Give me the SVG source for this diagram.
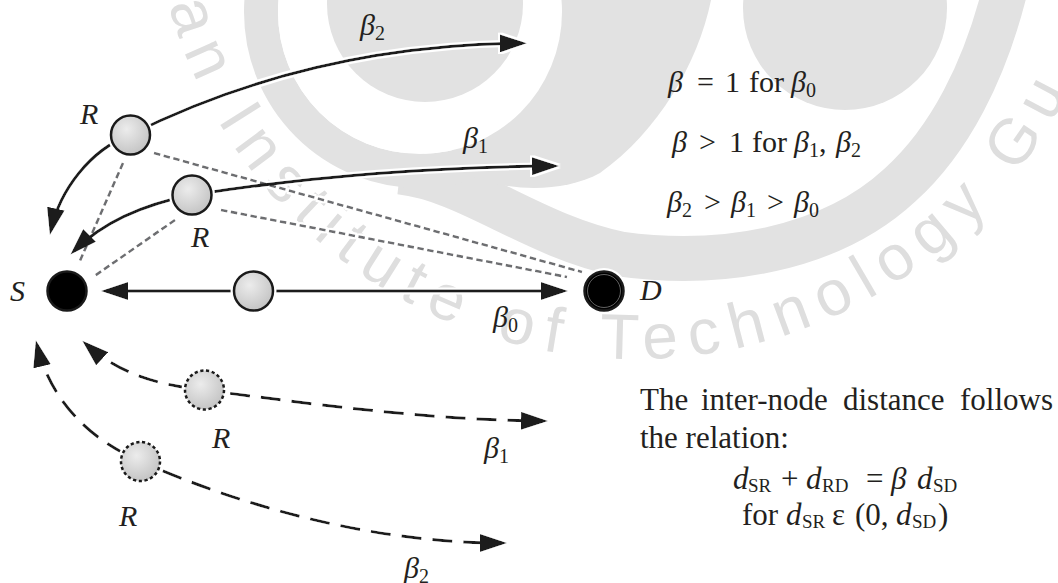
<svg xmlns="http://www.w3.org/2000/svg" width="1058" height="583" viewBox="0 0 1058 583">
<defs>
<style>
.t{font-family:"Liberation Serif","Times New Roman",serif;font-size:30px;fill:#231f20}
.b{font-size:31px}
.i{font-style:italic}
.sub{font-size:20px;font-style:normal}
.sb{font-size:19px;font-style:normal}
.wm{fill:#e2e2e2}
.wmt{font-family:"Liberation Sans",Arial,sans-serif;font-size:64px;letter-spacing:12px;fill:#dedede}
.halo{fill:#fff}
.node{stroke:#1a1a1a;stroke-width:2.5}
.relay{fill:url(#g)}
.ghost{fill:url(#g);stroke-dasharray:3.2 2.6}
.sink{fill:#000}
.solid{fill:none;stroke:#1a1a1a;stroke-width:3}
.dash{fill:none;stroke:#1a1a1a;stroke-width:3;stroke-dasharray:20 11}
.dot{fill:none;stroke:#6d6e71;stroke-width:2.6;stroke-dasharray:6.5 3.5}
</style>
<radialGradient id="g" cx="0.4" cy="0.35" r="0.7"><stop offset="0" stop-color="#ececec"/><stop offset="1" stop-color="#c2c2c2"/></radialGradient>
<marker id="ah" viewBox="0 0 27 18" refX="22" refY="9" markerWidth="27" markerHeight="18" markerUnits="userSpaceOnUse" orient="auto-start-reverse"><path d="M0,0 L27,9 L0,18 Z" fill="#1a1a1a"/></marker>
<filter id="hf" filterUnits="userSpaceOnUse" x="0" y="0" width="1058" height="583">
<feMorphology in="SourceAlpha" operator="dilate" radius="2" result="d"/>
<feFlood flood-color="#ffffff" result="f"/>
<feComposite in="f" in2="d" operator="in" result="w"/>
<feMerge><feMergeNode in="w"/><feMergeNode in="SourceGraphic"/></feMerge>
</filter>
<path id="wmArc" d="M 168.8,5.2 A 484 484 0 0 0 1089.8,40.5"/>
</defs>
<rect width="1058" height="583" fill="#fff"/>
<g id="watermark">
<path d="M400,172 C470,180 530,235 620,254 C720,268 830,250 900,185 C950,140 985,70 1005,-10" fill="none" stroke="#e2e2e2" stroke-width="45"/>
<circle cx="420" cy="12" r="159" fill="none" stroke="#e2e2e2" stroke-width="34"/>
<path class="wm" d="M560,-5 L712,-5 C700,60 660,130 600,173 C560,195 500,190 470,175 L420,100 Z"/>
<circle cx="420" cy="12" r="142" fill="#fff"/>
<circle class="wm" cx="425" cy="4" r="98"/>
<circle class="wm" cx="845" cy="8" r="102"/>
<text class="wmt"><textPath href="#wmArc">an Institute of Technology Gu</textPath></text>
</g>
<g id="connectors" filter="url(#hf)">
<path class="dot" d="M123,163 L79,263"/>
<path class="dot" d="M154,153 L582,272"/>
<path class="dot" d="M175,220 L93,277"/>
<path class="dot" d="M221,210 L567,277"/>
<path class="solid" d="M106,291 L563,291" marker-start="url(#ah)" marker-end="url(#ah)"/>
<path class="solid" d="M51,230 C60,190 90,150 130,135 C220,90 350,45 521.8,43.2" marker-start="url(#ah)" marker-end="url(#ah)"/>
<path class="solid" d="M74,251 C100,225 140,205 192,195 C300,178 420,167 554,166" marker-start="url(#ah)" marker-end="url(#ah)"/>
<path class="dash" d="M86,344 C120,375 160,385 204,390 C320,405 430,420 543,421" marker-start="url(#ah)" marker-end="url(#ah)"/>
<path class="dash" d="M37,345 C50,400 90,440 140,461 C250,510 380,543 502,543" marker-start="url(#ah)" marker-end="url(#ah)"/>
</g>
<g id="node-S"><circle class="halo" cx="67" cy="291" r="23"/><circle class="node sink" cx="67" cy="291" r="19.5"/><text class="t i" x="10" y="301">S</text></g>
<g id="node-D"><circle class="halo" cx="604" cy="291" r="23"/><circle class="node sink" cx="604" cy="291" r="19.5"/><circle cx="604" cy="291" r="16.5" fill="none" stroke="#7a7a7a" stroke-width="0.8"/><text class="t i" x="640" y="300">D</text></g>
<g id="node-M"><circle class="halo" cx="253.5" cy="291" r="23"/><circle class="node relay" cx="253.5" cy="291" r="19.5"/></g>
<g id="node-R2"><circle class="halo" cx="130.5" cy="135" r="23"/><circle class="node relay" cx="130.5" cy="135" r="19.5"/><text class="t i" x="80" y="124">R</text></g>
<g id="node-R1"><circle class="halo" cx="192" cy="195" r="23"/><circle class="node relay" cx="192" cy="195" r="19.5"/><text class="t i" x="191" y="247">R</text></g>
<g id="node-R1b"><circle class="halo" cx="204.5" cy="390" r="23"/><circle class="node ghost" cx="204.5" cy="390" r="19.5"/><text class="t i" x="212" y="448">R</text></g>
<g id="node-R2b"><circle class="halo" cx="140.5" cy="461.5" r="23"/><circle class="node ghost" cx="140.5" cy="461.5" r="19.5"/><text class="t i" x="119" y="526">R</text></g>
<g id="edge-labels">
<text class="t"><tspan class="i" x="360" y="35">β</tspan><tspan class="sub" y="40">2</tspan></text>
<text class="t"><tspan class="i" x="463" y="148">β</tspan><tspan class="sub" y="153">1</tspan></text>
<text class="t"><tspan class="i" x="493" y="327">β</tspan><tspan class="sub" y="332">0</tspan></text>
<text class="t"><tspan class="i" x="484" y="458">β</tspan><tspan class="sub" y="463">1</tspan></text>
<text class="t"><tspan class="i" x="404" y="578">β</tspan><tspan class="sub" y="583">2</tspan></text>
</g>
<g id="notes">
<text class="t"><tspan class="i" x="668" y="92">β</tspan><tspan x="697" y="92">=</tspan><tspan x="725" y="92">1</tspan><tspan x="749" y="92">for</tspan><tspan class="i" x="791" y="92">β</tspan><tspan class="sub" y="97">0</tspan></text>
<text class="t"><tspan class="i" x="672" y="152">β</tspan><tspan x="699" y="152">&gt;</tspan><tspan x="729" y="152">1</tspan><tspan x="752" y="152">for</tspan><tspan class="i" x="794" y="152">β</tspan><tspan class="sub" y="157">1</tspan><tspan y="152">,</tspan><tspan class="i" x="836" y="152">β</tspan><tspan class="sub" y="157">2</tspan></text>
<text class="t"><tspan class="i" x="667" y="212">β</tspan><tspan class="sub" y="217">2</tspan><tspan x="704" y="212">&gt;</tspan><tspan class="i" x="731" y="212">β</tspan><tspan class="sub" y="217">1</tspan><tspan x="767" y="212">&gt;</tspan><tspan class="i" x="794" y="212">β</tspan><tspan class="sub" y="217">0</tspan></text>
<text class="t b" y="410"><tspan x="640">The</tspan><tspan x="701">inter-node</tspan><tspan x="843">distance</tspan><tspan x="960">follows</tspan></text>
<text class="t b" x="640" y="448">the relation:</text>
<text class="t b"><tspan class="i" x="733" y="489">d</tspan><tspan class="sb" x="748" y="492">SR</tspan><tspan x="781" y="489">+</tspan><tspan class="i" x="806" y="489">d</tspan><tspan class="sb" x="822" y="492">RD</tspan><tspan x="866" y="489">=</tspan><tspan class="i" x="891" y="489">β</tspan><tspan class="i" x="917" y="489">d</tspan><tspan class="sb" x="933" y="492">SD</tspan></text>
<text class="t b"><tspan x="742" y="525">for</tspan><tspan class="i" x="786" y="525">d</tspan><tspan class="sb" x="802" y="528">SR</tspan><tspan x="832" y="525">ε</tspan><tspan x="855" y="525">(0,</tspan><tspan class="i" x="896" y="525">d</tspan><tspan class="sb" x="912" y="528">SD</tspan><tspan x="938" y="525">)</tspan></text>
</g>
</svg>
